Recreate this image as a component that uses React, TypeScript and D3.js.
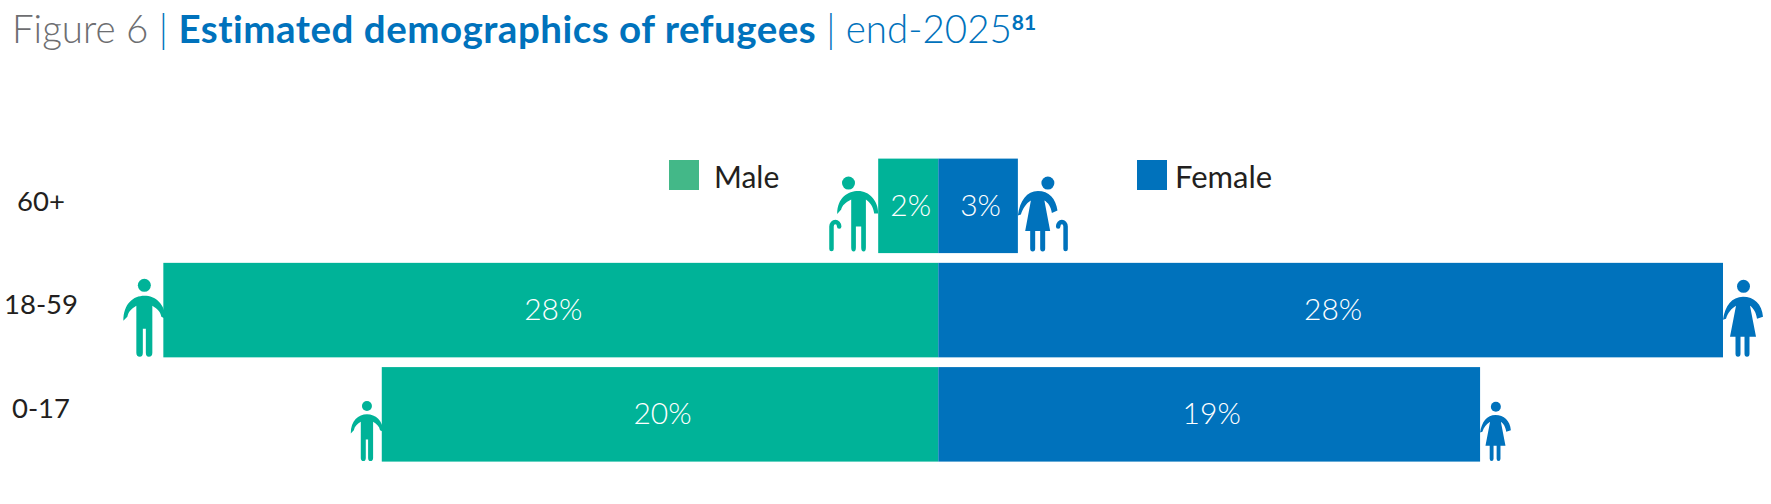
import * as d3 from 'd3';

const ageGroups = ['60+', '18-59', '0-17'];
const maleValues = [2.16, 27.85, 20.0];
const femaleValues = [2.86, 28.2, 19.47];
const maleLabels = ['2%', '28%', '20%'];
const femaleLabels = ['3%', '28%', '19%'];
const legendItems = ['Male', 'Female'];

const GREEN = '#00b398';
const BLUE = '#0072bc';
const FONT = 'Lato, "Open Sans", sans-serif';

const x = d3.scaleLinear().domain([-28.2, 28.2]).range([153.6, 1723]);
const y = d3.scaleBand().domain(ageGroups).range([158.6, 461.6]).paddingInner(0.0935).paddingOuter(0);

// ─── Pictograms, each in its own box, feet at the bottom of the box ───
const icons: Record<string, { w: number; h: number; head: number; d: string; cane?: string }> = {
  man: {
    w: 42,
    h: 78,
    head: 21,
    d: 'M21 17C10 17 0 25 0 42L4 38C5 33 8 30 13 27L13 74Q13 78 16.5 78Q19.5 78 19.5 74L19.5 50L22.5 50L22.5 74Q22.5 78 25.5 78Q29 78 29 74L29 27C34 30 37 33 38 38L42 40C42 25 32 17 21 17Z',
  },
  woman: {
    w: 40,
    h: 77,
    head: 20.5,
    d: 'M20 17C9 17 2 26 0 40L3 39C5 33 8 29 13 26L7 57L12.5 57L12.5 74Q12.5 77 15 77Q17.5 77 17.5 74L17.5 57L21.5 57L21.5 74Q21.5 77 24 77Q26.5 77 26.5 74L26.5 57L33 57L27 26C30 28 33 32 34 39L40 37C39 24 31 17 20 17Z',
  },
  oldMan: {
    w: 41,
    h: 75,
    head: 11.3,
    d: 'M21 14.5C11 14.5 0 21 0 37.5L4 33C5 29 8 26 14 23L14 71Q14 75 16.5 75Q18.7 75 18.7 71L18.7 50L24 50L24 71Q24 75 26.5 75Q28.7 75 28.7 71L28.7 23C33 26 36 30 37 37L41 37C41 24 32 14.5 21 14.5Z',
    cane: 'M-5.7 72.5L-5.7 50C-5.7 44 2 44 2 50',
  },
  oldWoman: {
    w: 40,
    h: 75,
    head: 30,
    d: 'M20 14.5C9 14.5 2 24 0 39L3 38C5 32 8 27 13 24L7.3 54.3L12.3 54.3L12.3 72Q12.3 75 14.8 75Q17.3 75 17.3 72L17.3 54.3L22.3 54.3L22.3 72Q22.3 75 24.8 75Q27.3 75 27.3 72L27.3 54.3L32.3 54.3L26.5 24C30 26 33 30 34 36.5L39.6 34C38 22 31 14.5 20 14.5Z',
    cane: 'M47.7 72.5L47.7 50C47.7 44 40.3 44 40.3 50',
  },
};

function Person({ icon, color, left, bottom, scale = 1 }: { icon: string; color: string; left: number; bottom: number; scale?: number }) {
  const ic = icons[icon];
  return (
    <g transform={`translate(${left},${bottom - ic.h * scale}) scale(${scale})`} fill={color}>
      <circle cx={ic.head} cy={6.5} r={6.5} />
      <path d={ic.d} />
      {ic.cane && <path d={ic.cane} fill="none" stroke={color} strokeWidth={4.5} strokeLinecap="round" />}
    </g>
  );
}

export default function App() {
  const h = y.bandwidth();
  const zero = x(0);
  const mEdge = (i: number) => x(-maleValues[i]);
  const fEdge = (i: number) => x(femaleValues[i]);
  return (
    <svg width={1771} height={504} style={{ position: 'absolute', left: 0, top: 0, background: '#fff' }}>
      <text x={12} y={43} fontFamily={FONT} fontSize={38.5} fill={BLUE}>
        <tspan fill="#6d6e71" fontWeight={300}>Figure 6 </tspan>
        <tspan fontWeight={300}>| </tspan>
        <tspan fontWeight={700} letterSpacing={0.5}>Estimated demographics of refugees </tspan>
        <tspan fontWeight={300}>| end-2025</tspan>
        <tspan fontWeight={700} fontSize={21} dy={-13}>81</tspan>
      </text>

      {/* icons go first so the bars cover the arms that overlap them */}
      <Person icon="oldMan" color={GREEN} left={mEdge(0) - 41} bottom={y('60+')! + 93} />
      <Person icon="oldWoman" color={BLUE} left={fEdge(0)} bottom={y('60+')! + 93} />
      <Person icon="man" color={GREEN} left={mEdge(1) - 40} bottom={y('18-59')! + 94} />
      <Person icon="woman" color={BLUE} left={fEdge(1)} bottom={y('18-59')! + 94} />
      <Person icon="man" color={GREEN} left={mEdge(2) - 31} bottom={y('0-17')! + 94} scale={0.77} />
      <Person icon="woman" color={BLUE} left={fEdge(2)} bottom={y('0-17')! + 94} scale={0.77} />

      {ageGroups.map((g, i) => (
        <g key={g}>
          <rect x={mEdge(i)} y={y(g)} width={zero - mEdge(i)} height={h} fill={GREEN} />
          <rect x={zero} y={y(g)} width={fEdge(i) - zero} height={h} fill={BLUE} />
          <text x={(mEdge(i) + zero) / 2 + 2.5} y={y(g)! + h / 2 + 10} textAnchor="middle" fontFamily={FONT} fontSize={30} fontWeight={300} fill="#fff">
            {maleLabels[i]}
          </text>
          <text x={(fEdge(i) + zero) / 2 + 2.5} y={y(g)! + h / 2 + 10} textAnchor="middle" fontFamily={FONT} fontSize={30} fontWeight={300} fill="#fff">
            {femaleLabels[i]}
          </text>
          <text x={41} y={y(g)! + h / 2 + 10 - (i === 0 ? 5 : 6)} textAnchor="middle" fontFamily={FONT} fontSize={27.5} fill="#231f20">
            {g}
          </text>
        </g>
      ))}

      <rect x={669} y={160} width={30} height={30} fill="#43b888" />
      <text x={714} y={188} fontFamily={FONT} fontSize={30} fill="#231f20">{legendItems[0]}</text>
      <rect x={1137} y={160} width={30} height={30} fill={BLUE} />
      <text x={1175} y={188} fontFamily={FONT} fontSize={31} fill="#231f20">{legendItems[1]}</text>
    </svg>
  );
}
